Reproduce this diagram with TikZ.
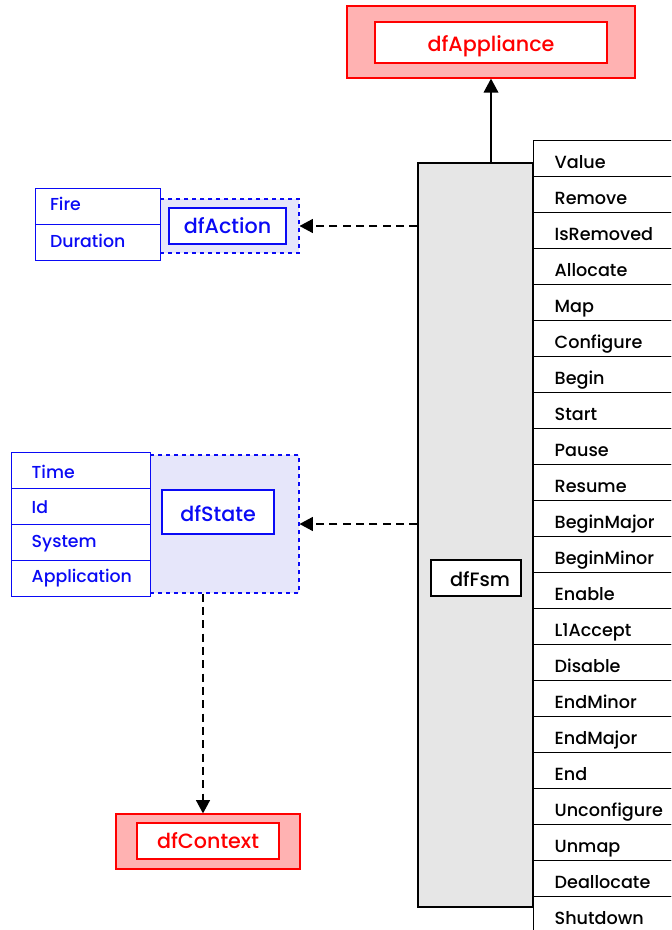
\documentclass[tikz,border=0pt]{standalone}
\usepackage{fontspec}
\setmainfont{Poppins Medium}
\usetikzlibrary{arrows.meta}

\definecolor{clsred}{RGB}{255,0,0}
\definecolor{clspink}{RGB}{255,178,178}
\definecolor{clsblue}{RGB}{10,10,245}
\definecolor{clslav}{RGB}{230,230,250}
\definecolor{clsgrey}{RGB}{230,230,230}

\tikzset{
  % external classes (red)
  extouter/.style={draw=clsred, fill=clspink, line width=0.9pt, inner sep=0pt},
  extinner/.style={draw=clsred, fill=white, line width=0.9pt, inner sep=0pt,
    text=clsred, font=\fontsize{15.5}{18}\selectfont},
  % data classes (blue)
  dataouter/.style={draw=clsblue, fill=clslav, line width=0.8pt,
    dash pattern=on 3pt off 3pt, inner sep=0pt},
  datainner/.style={draw=clsblue, fill=white, line width=0.8pt, inner sep=0pt,
    text=clsblue, font=\fontsize{15.5}{18}\selectfont},
  attrrow/.style={draw=clsblue, fill=white, line width=0.8pt, inner sep=0pt,
    anchor=north west, text=clsblue, font=\fontsize{13}{15}\selectfont,
    align=left, minimum height=27pt, text depth=0pt},
  % state machine
  fsmbody/.style={draw=black, fill=clsgrey, line width=1pt, inner sep=0pt},
  fsmlabel/.style={draw=black, fill=white, line width=1pt, inner sep=0pt,
    font=\fontsize{14.5}{17}\selectfont, text height=12pt, text depth=0pt},
  oprow/.style={draw=black, fill=white, line width=1pt, anchor=north west,
    minimum width=120pt, minimum height=27pt, text width=97pt,
    inner xsep=15.75pt, inner ysep=0pt, align=left,
    text height=15pt, text depth=0pt,
    font=\fontsize{13.2}{16}\selectfont},
  inherit/.style={draw=black, line width=1pt,
    -{Triangle[length=10.5pt,width=11pt]}},
  uses/.style={draw=black, line width=1pt, dash pattern=on 6pt off 4pt,
    -{Triangle[length=10pt,width=10.5pt]}},
}

\begin{document}
\begin{tikzpicture}[x=0.75pt,y=-0.75pt]
  \useasboundingbox (0,0) rectangle (671,930);
  \clip (0,0) rectangle (671,930);

  % dfAppliance
  \node[extouter, minimum width=216pt, minimum height=54pt] (appo) at (491,42) {};
  \node[extinner, minimum width=174pt, minimum height=30.75pt,
        text height=14pt, text depth=0pt] (app) at (491,42.5) {dfAppliance};

  % dfFsm body and its operations
  \node[fsmbody, minimum width=86.25pt, minimum height=558pt] (fsm) at (475.5,535) {};
  \node[fsmlabel, minimum width=67.5pt, minimum height=27pt] (fsml) at (476,578) {\hspace{6pt}dfFsm};

  \foreach \op [count=\i from 0] in {Value,Remove,IsRemoved,Allocate,Map,Configure,
      Begin,Start,Pause,Resume,BeginMajor,BeginMinor,Enable,L1Accept,Disable,
      EndMinor,EndMajor,End,Unconfigure,Unmap,Deallocate,Shutdown}
    \node[oprow] (op\i) at (533,140+36*\i) {\op};

  % dfAction
  \node[dataouter, minimum width=104.25pt, minimum height=40.5pt] (acto) at (229.5,226) {};
  \node[datainner, minimum width=87.75pt, minimum height=27pt,
        text height=12pt, text depth=0pt] (act) at (227.5,226) {dfAction};
  \node[attrrow, minimum width=93.75pt, inner xsep=10.5pt, text width=72pt,
        text height=6pt] (fire) at (35,188) {Fire};
  \node[attrrow, minimum width=93.75pt, inner xsep=10.5pt, text width=72pt,
        text height=7pt] (dur) at (35,224) {Duration};

  % dfState
  \node[dataouter, minimum width=111.75pt, minimum height=103.5pt] (stao) at (224.5,524) {};
  \node[datainner, minimum width=84pt, minimum height=33pt,
        text height=13.5pt, text depth=0pt] (sta) at (218,512) {dfState};
  \foreach \a/\h [count=\i from 0] in {Time/11.5pt,Id/10pt,System/7pt,Application/6.5pt}
    \node[attrrow, minimum width=104.25pt, inner xsep=15pt, text width=74pt,
          text height=\h] (attr\i) at (11,452+36*\i) {\a};

  % dfContext
  \node[extouter, minimum width=138pt, minimum height=41.25pt] (ctxo) at (208,841.5) {};
  \node[extinner, minimum width=106.5pt, minimum height=27pt,
        text height=11.5pt, text depth=0pt] (ctx) at (208,841) {dfContext};

  % connectors
  \draw[inherit] (fsm.north -| app.south) -- (appo.south);
  \draw[uses] (fsm.west |- acto.east) -- (acto.east);
  \draw[uses] (fsm.west |- stao.east) -- (stao.east);
  \draw[uses] ([xshift=-3.75pt]stao.south -| ctxo.north) -- ([xshift=-3.75pt]ctxo.north);
\end{tikzpicture}
\end{document}
